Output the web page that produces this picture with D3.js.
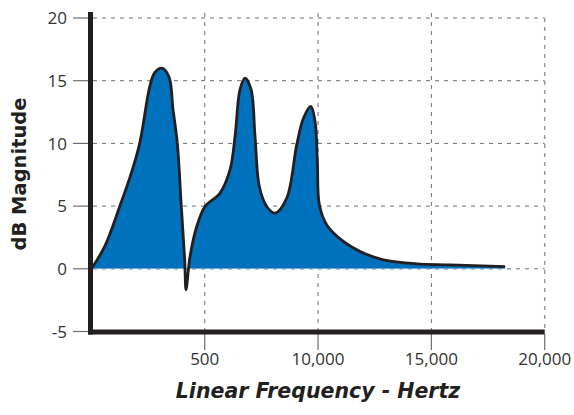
<!DOCTYPE html>
<html><head><meta charset="utf-8">
<script src="https://cdn.jsdelivr.net/npm/d3@7"></script>
<style>body{margin:0;background:#fff}svg{display:block}</style>
</head><body>
<script>
const freqHz = [0, 587, 1249, 1761, 2131, 2572, 2793, 3115, 3425, 3601, 3791, 3967, 4117, 4175, 4351, 4647, 5013, 5675, 6117, 6337, 6558, 6779, 7044, 7220, 7410, 7735, 8102, 8618, 9060, 9354, 9679, 9868, 9970, 10058, 10384, 11118, 11853, 12882, 14353, 15825, 18252];
const magDb  = [0, 1.78, 4.97, 7.63, 10.0, 14.5, 15.65, 16.0, 15.3, 12.7, 10.0, 4.97, 0.7, -1.67, 0.98, 3.37, 4.97, 6.04, 7.9, 10.55, 14.3, 15.2, 14.3, 10.55, 6.56, 4.97, 4.44, 5.64, 9.9, 12.0, 12.95, 11.75, 8.56, 5.1, 3.5, 2.18, 1.38, 0.72, 0.40, 0.32, 0.18];
const xTickValues = [5000, 10000, 15000, 20000];
const xTickLabels = ["500", "10,000", "15,000", "20,000"];
const yTickValues = [-5, 0, 5, 10, 15, 20];
const yTickLabels = ["-5", "0", "5", "10", "15", "20"];

const W = 574, H = 415;
const svg = d3.select("body").append("svg").attr("width", W).attr("height", H);
const x = d3.scaleLinear().domain([0, 20000]).range([91.4, 544.7]);
const y = d3.scaleLinear().domain([-5, 20]).range([331.5, 18]);
const data = freqHz.map((f, i) => ({f, v: magDb[i]}));
const ink = "#231f20";
const grid = "#6d6e71";

// grid
svg.append("g").selectAll("line").data(yTickValues.filter(v => v > -5)).join("line")
  .attr("x1", 93).attr("x2", x(20000)).attr("y1", d => y(d)).attr("y2", d => y(d))
  .attr("stroke", grid).attr("stroke-width", 1).attr("stroke-dasharray", "4,5");
svg.append("g").selectAll("line").data(xTickValues).join("line")
  .attr("x1", d => x(d)).attr("x2", d => x(d)).attr("y1", d => d === 20000 ? y(20) : 13).attr("y2", 330)
  .attr("stroke", d => d === 20000 ? "#999" : grid).attr("stroke-width", d => d === 20000 ? 1.5 : 1)
  .attr("stroke-dasharray", "4,5");

// area
const curve = d3.curveCatmullRom.alpha(0.5);
svg.append("clipPath").attr("id", "pos").append("rect")
  .attr("x", 0).attr("y", 0).attr("width", W).attr("height", y(0));
const area = d3.area().x(d => x(d.f)).y0(y(0)).y1(d => y(d.v)).curve(curve);
const line = d3.line().x(d => x(d.f)).y(d => y(d.v)).curve(curve);
svg.append("path").datum(data).attr("d", area).attr("fill", "#0071bc").attr("clip-path", "url(#pos)");
svg.append("line").attr("x1", 93).attr("x2", x(18252)).attr("y1", y(0)).attr("y2", y(0))
  .attr("stroke", "#6fa6d6").attr("stroke-width", 1).attr("stroke-dasharray", "4,5");
svg.append("path").datum(data).attr("d", line).attr("fill", "none")
  .attr("stroke", ink).attr("stroke-width", 2.8).attr("stroke-linejoin", "round");

// ticks
svg.append("g").selectAll("line").data(yTickValues).join("line")
  .attr("x1", 73).attr("x2", 89).attr("y1", d => y(d)).attr("y2", d => y(d))
  .attr("stroke", grid).attr("stroke-width", 1.2);
svg.append("g").selectAll("line").data(xTickValues).join("line")
  .attr("x1", d => x(d)).attr("x2", d => x(d)).attr("y1", 334).attr("y2", 350)
  .attr("stroke", grid).attr("stroke-width", 1.2);

// axes
svg.append("line").attr("x1", 90.5).attr("x2", 90.5).attr("y1", 12).attr("y2", 334.5)
  .attr("stroke", ink).attr("stroke-width", 5);
svg.append("line").attr("x1", 88).attr("x2", x(20000)).attr("y1", 332).attr("y2", 332)
  .attr("stroke", ink).attr("stroke-width", 5);

// labels
const font = "'Open Sans', 'Noto Sans', sans-serif";
svg.append("g").selectAll("text").data(yTickValues).join("text")
  .attr("x", 67).attr("y", d => y(d)).attr("dy", "0.36em").attr("text-anchor", "end")
  .attr("font-family", font).attr("font-size", 17).attr("fill", "#333")
  .text((d, i) => yTickLabels[i]);
svg.append("g").selectAll("text").data(xTickValues).join("text")
  .attr("x", d => x(d)).attr("y", 365).attr("text-anchor", "middle")
  .attr("font-family", font).attr("font-size", 17).attr("fill", "#333")
  .text((d, i) => xTickLabels[i]);
svg.append("text").attr("x", 318).attr("y", 398).attr("text-anchor", "middle")
  .attr("font-family", "'DejaVu Sans', sans-serif").attr("font-weight", "bold").attr("font-style", "italic")
  .attr("font-size", 20.5).attr("fill", ink).text("Linear Frequency - Hertz");
svg.append("text").attr("transform", "translate(26,174) rotate(-90)").attr("text-anchor", "middle")
  .attr("font-family", "'DejaVu Sans', sans-serif").attr("font-weight", "bold")
  .attr("font-size", 19.5).attr("fill", ink).text("dB Magnitude");
</script>
</body></html>
